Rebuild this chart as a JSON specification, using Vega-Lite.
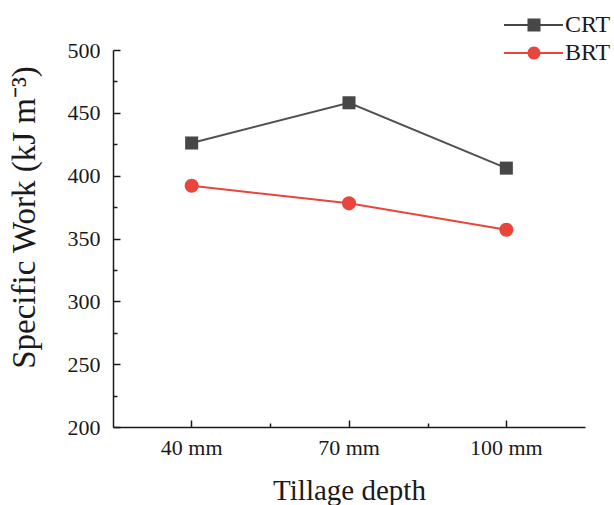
{
  "$schema": "https://vega.github.io/schema/vega-lite/v6.json",
  "autosize": {"type": "none"},
  "padding": {"left": 113, "top": 50, "right": 29, "bottom": 78},
  "width": 472,
  "height": 377,
  "background": "white",
  "config": {
    "view": {"stroke": null},
    "font": "Liberation Serif",
    "axis": {
      "domainColor": "#1a1a1a",
      "domainWidth": 1.5,
      "tickColor": "#1a1a1a",
      "tickWidth": 1.5,
      "grid": false,
      "labelFont": "Liberation Serif",
      "titleFont": "Liberation Serif",
      "labelColor": "#1a1a1a",
      "titleColor": "#1a1a1a",
      "titleFontWeight": "normal"
    },
    "legend": {"labelFont": "Liberation Serif"}
  },
  "data": {
    "values": [
      {"depth": "40 mm", "series": "CRT", "value": 426},
      {"depth": "70 mm", "series": "CRT", "value": 458},
      {"depth": "100 mm", "series": "CRT", "value": 406},
      {"depth": "40 mm", "series": "BRT", "value": 392},
      {"depth": "70 mm", "series": "BRT", "value": 378},
      {"depth": "100 mm", "series": "BRT", "value": 357}
    ]
  },
  "resolve": {"axis": {"x": "independent", "y": "independent"}},
  "layer": [
    {
      "transform": [{"filter": "datum.series === 'CRT'"}],
      "mark": {"type": "line", "strokeWidth": 2, "color": "#505050"},
      "encoding": {
        "x": {
          "field": "depth", "type": "nominal",
          "sort": ["40 mm", "70 mm", "100 mm"],
          "scale": {"type": "band", "paddingInner": 0, "paddingOuter": 0},
          "axis": {"orient": "bottom", "title": "Tillage depth", "labelAngle": 0, "labelFontSize": 22, "titleFontSize": 29, "tickSize": -7, "labelPadding": 17, "titlePadding": 18}
        },
        "y": {
          "field": "value", "type": "quantitative",
          "scale": {"domain": [200, 500], "nice": false, "zero": false},
          "axis": {"orient": "left", "title": "Specific Work (kJ m⁻³)", "values": [200, 250, 300, 350, 400, 450, 500], "labelFontSize": 22, "titleFontSize": 33, "tickSize": -7, "labelPadding": 20, "titlePadding": 26, "titleY": 167}
        }
      }
    },
    {
      "transform": [{"filter": "datum.series === 'BRT'"}],
      "mark": {"type": "line", "strokeWidth": 2, "color": "#e8453c"},
      "encoding": {
        "x": {"field": "depth", "type": "nominal", "sort": ["40 mm", "70 mm", "100 mm"], "axis": null},
        "y": {"field": "value", "type": "quantitative", "axis": null}
      }
    },
    {
      "transform": [{"filter": "datum.series === 'CRT'"}],
      "mark": {"type": "point", "shape": "square", "filled": true, "opacity": 1, "size": 170, "color": "#474747"},
      "encoding": {
        "x": {"field": "depth", "type": "nominal", "sort": ["40 mm", "70 mm", "100 mm"], "axis": null},
        "y": {"field": "value", "type": "quantitative", "axis": null}
      }
    },
    {
      "transform": [{"filter": "datum.series === 'BRT'"}],
      "mark": {"type": "point", "shape": "circle", "filled": true, "opacity": 1, "size": 200, "color": "#e8453c"},
      "encoding": {
        "x": {"field": "depth", "type": "nominal", "sort": ["40 mm", "70 mm", "100 mm"], "axis": null},
        "y": {"field": "value", "type": "quantitative", "axis": null}
      }
    },
    {
      "mark": {"type": "point", "filled": true, "opacity": 0},
      "encoding": {
        "x": {
          "field": "depth", "type": "nominal", "sort": ["40 mm", "70 mm", "100 mm"],
          "axis": {"orient": "bottom", "values": ["40 mm", "70 mm"], "tickOffset": 78.67, "labels": false, "domain": false, "title": null, "tickSize": -4}
        },
        "y": {
          "field": "value", "type": "quantitative",
          "axis": {"orient": "left", "values": [225, 275, 325, 375, 425, 475], "labels": false, "domain": false, "title": null, "tickSize": -4}
        },
        "shape": {
          "field": "series", "type": "nominal",
          "scale": {"domain": ["CRT", "BRT"], "range": [
            "M-1,-0.1H4.9V0.1H-1Z M1.35,-0.65H2.65V0.65H1.35Z",
            "M-1,-0.1H4.9V0.1H-1Z M1.35,0A0.65,0.65 0 1,1 2.65,0A0.65,0.65 0 1,1 1.35,0Z"
          ]},
          "legend": {
            "title": null,
            "orient": "none",
            "legendX": 389,
            "legendY": -37,
            "padding": 0,
            "symbolSize": 400,
            "symbolOpacity": 1,
            "symbolStrokeWidth": 0,
            "labelFontSize": 24,
            "labelColor": "#1a1a1a",
            "labelOffset": 39,
            "rowPadding": 4
          }
        },
        "color": {
          "field": "series", "type": "nominal",
          "scale": {"domain": ["CRT", "BRT"], "range": ["#474747", "#e8453c"]},
          "legend": {
            "title": null,
            "orient": "none",
            "legendX": 389,
            "legendY": -37,
            "padding": 0,
            "symbolSize": 400,
            "symbolOpacity": 1,
            "symbolStrokeWidth": 0,
            "labelFontSize": 24,
            "labelColor": "#1a1a1a",
            "labelOffset": 39,
            "rowPadding": 4
          }
        }
      }
    }
  ]
}
